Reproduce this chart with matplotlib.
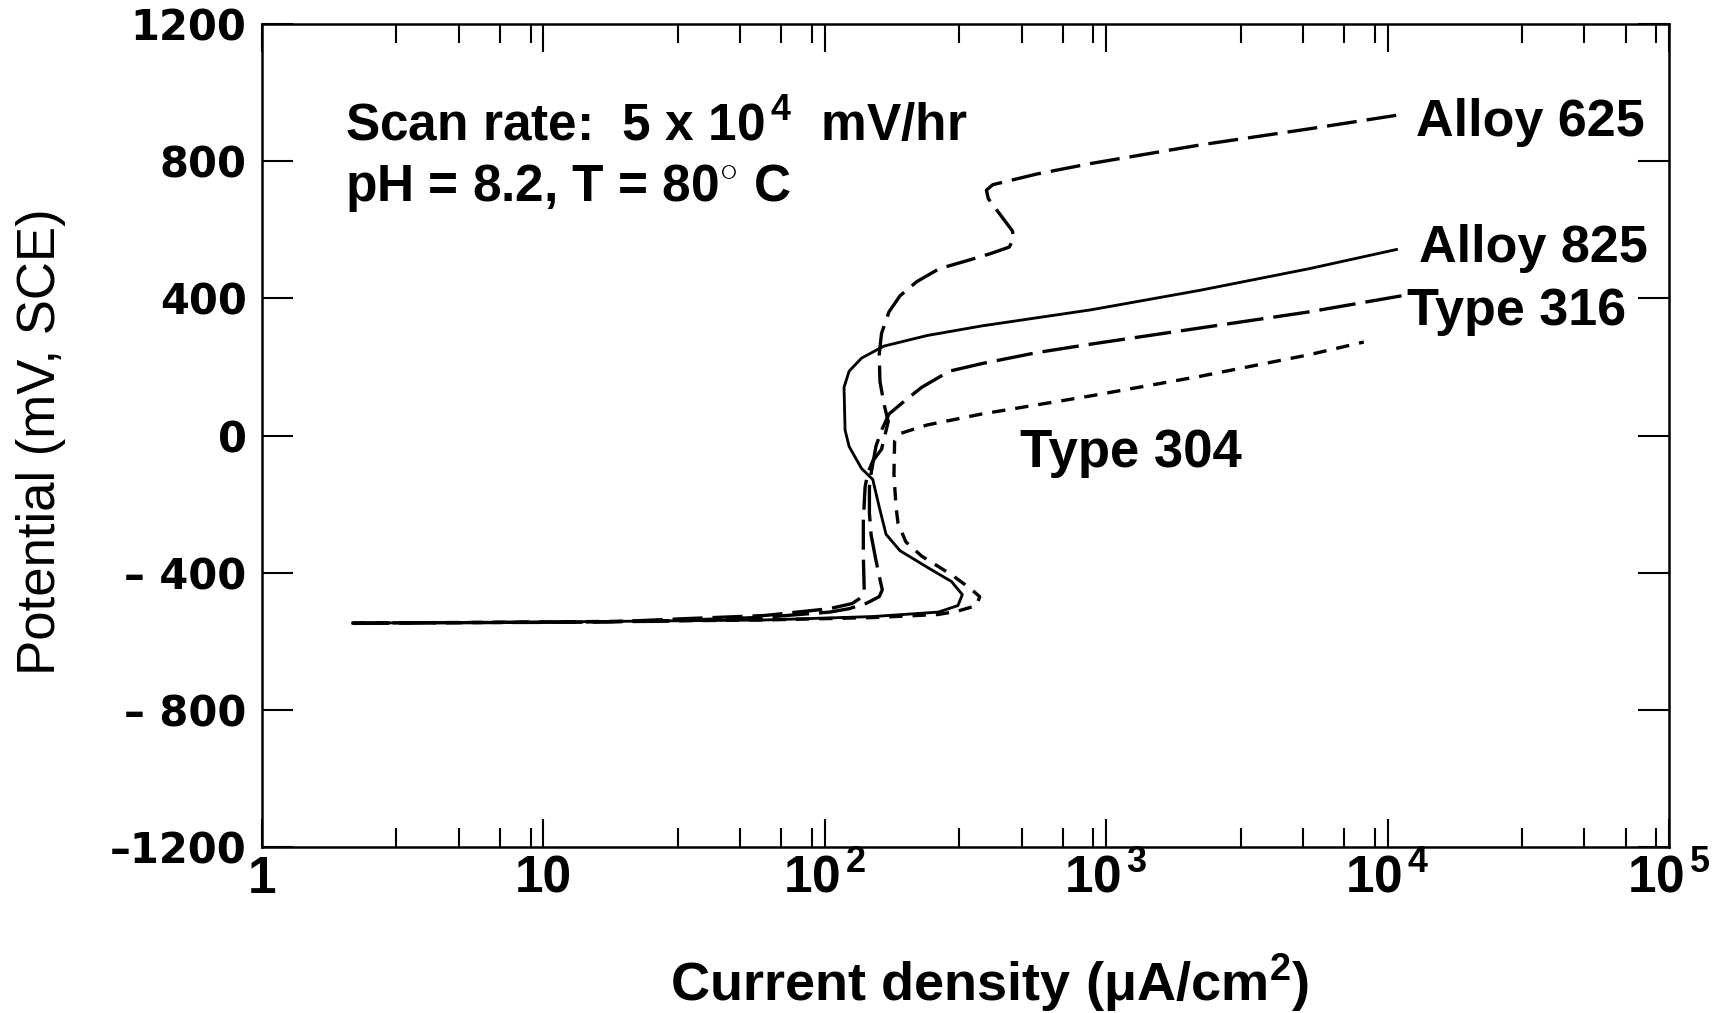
import matplotlib
matplotlib.use("Agg")
import matplotlib.pyplot as plt
from matplotlib.ticker import FixedLocator, NullFormatter

plt.rcParams['font.family'] = ['Liberation Sans', 'DejaVu Sans']
plt.rcParams['font.weight'] = 'bold'
plt.rcParams['mathtext.fontset'] = 'custom'
plt.rcParams['mathtext.rm'] = 'Liberation Sans:bold'
plt.rcParams['mathtext.bf'] = 'Liberation Sans:bold'
plt.rcParams['mathtext.it'] = 'Liberation Sans:bold'

# current density (uA/cm2) and potential (mV, SCE)
alloy625_i = [2.1, 10, 17, 30, 61, 104, 125, 135, 138, 137, 137, 139, 142, 148, 159,
              168, 163, 157, 156, 159, 169, 185, 212, 255, 316, 388, 452, 469, 464,
              381, 375, 395, 565, 883, 2155, 5260, 11040]
alloy625_e = [-547, -545, -544, -535, -525, -505, -490, -472, -450, -350, -250, -150,
              -110, -74, -40, 41, 85, 157, 236, 298, 361, 408, 449, 487, 509, 531,
              550, 575, 597, 691, 716, 732, 763, 794, 848, 895, 936]

alloy825_i = [2.1, 10, 61, 148, 253, 297, 308, 282, 231, 185, 165, 156, 148, 135, 122,
              118, 117, 122, 135, 162, 231, 361, 883, 2155, 5260, 10740]
alloy825_e = [-547, -544, -538, -528, -515, -496, -464, -426, -384, -336, -288, -208,
              -128, -96, -32, 16, 141, 188, 226, 261, 292, 320, 367, 424, 487, 543]

type316_i = [2.1, 25, 61, 104, 122, 140, 156, 160, 157, 152, 146, 144, 144, 146, 152,
             160, 169, 194, 221, 277, 361, 565, 883, 2155, 5260, 11220]
type316_e = [-548, -542, -530, -515, -505, -490, -470, -450, -420, -365, -290, -227,
             -150, -110, -30, 20, 63, 104, 141, 188, 210, 242, 267, 314, 361, 408]

type304_i = [2.1, 10, 61, 148, 253, 297, 346, 355, 331, 282, 221, 194, 182, 179, 176,
             177, 185, 231, 361, 883, 2155, 5260, 8220]
type304_e = [-547, -544, -538, -531, -522, -512, -496, -470, -448, -406, -352, -310,
             -256, -208, -112, -16, 6, 31, 63, 116, 173, 236, 273]

y_ticks = [1200, 800, 400, 0, -400, -800, -1200]
y_labels = ['1200', '800', '400', '0', '\u2013 400', '\u2013 800', '\u20131200']
x_ticks = [1, 10, 100, 1000, 10000, 100000]
x_labels = ['1', '10', r'$10^{\,2}$', r'$10^{\,3}$', r'$10^{\,4}$', r'$10^{\,5}$']
x_minor = [m * 10 ** d for d in range(5) for m in (3, 5, 7, 9)]

fig = plt.figure(figsize=(17.12, 10.13), dpi=100)
ax = fig.add_axes([0.153, 0.164, 0.822, 0.812])

lw = 2.4
ax.plot(alloy625_i, alloy625_e, color='black', lw=lw, linestyle=(0, (9, 3)))
ax.plot(alloy825_i, alloy825_e, color='black', lw=lw * 0.85, linestyle='-')
ax.plot(type316_i, type316_e, color='black', lw=lw, linestyle=(0, (11, 3)))
ax.plot(type304_i, type304_e, color='black', lw=lw, linestyle=(0, (4, 3)))

ax.set_xscale('log')
ax.set_xlim(1, 1e5)
ax.set_ylim(-1200, 1200)

ax.set_xticks(x_ticks)
ax.set_xticklabels(x_labels)
ax.xaxis.set_minor_locator(FixedLocator(x_minor))
ax.xaxis.set_minor_formatter(NullFormatter())
ax.set_yticks(y_ticks)
ax.set_yticklabels(y_labels, fontfamily='DejaVu Sans', fontweight='bold', fontsize=30)

ax.tick_params(axis='both', which='both', direction='in', top=True, right=True, width=1.5)
ax.tick_params(axis='y', which='major', length=22, pad=11)
ax.tick_params(axis='x', which='major', length=20, pad=33, labelsize=37)
ax.tick_params(axis='x', which='minor', length=14)
for lbl in ax.get_xticklabels():
    lbl.set_va('baseline')

for s in ax.spines.values():
    s.set_linewidth(1.8)

ax.text(0.059, 0.876, 'Scan rate:  5 x 10$^{\\,4}$  mV/hr', transform=ax.transAxes,
        fontsize=37, va='center', ha='left')
ax.text(0.059, 0.801, 'pH = 8.2, T = 80$^{\\circ}$ C', transform=ax.transAxes,
        fontsize=37, va='center', ha='left')

ax.text(0.820, 0.881, 'Alloy 625', transform=ax.transAxes, fontsize=37.5, va='center')
ax.text(0.822, 0.727, 'Alloy 825', transform=ax.transAxes, fontsize=37.5, va='center')
ax.text(0.814, 0.651, 'Type 316', transform=ax.transAxes, fontsize=37.5, va='center')
ax.text(0.539, 0.479, 'Type 304', transform=ax.transAxes, fontsize=38, va='center')

narrow = ['Liberation Sans Narrow', 'Liberation Sans', 'DejaVu Sans']
fig.text(0.578, 0.012, 'Current density (\u03bcA/cm$^2$)', fontsize=39,
         family=narrow, ha='center', va='baseline')
fig.text(0.024, 0.564, 'Potential (mV, SCE)', fontsize=38, family=narrow,
         fontweight='normal', rotation=90, ha='center', va='center')

fig.savefig('out.png', dpi=100)
